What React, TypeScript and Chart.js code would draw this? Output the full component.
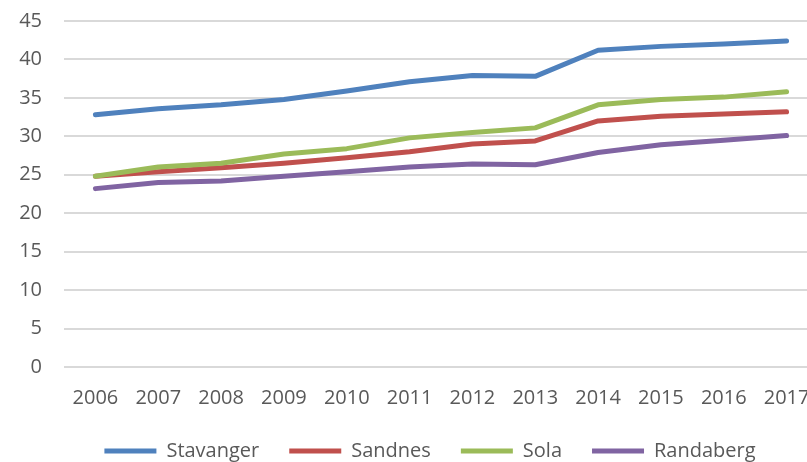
import React, { useEffect, useRef } from "react";
import { Chart, registerables } from "chart.js";

Chart.register(...registerables);

const categories = ["2006", "2007", "2008", "2009", "2010", "2011", "2012", "2013", "2014", "2015", "2016", "2017"];
const stavanger = [32.8, 33.6, 34.1, 34.8, 35.9, 37.1, 37.9, 37.8, 41.2, 41.7, 42.0, 42.4];
const sandnes = [24.8, 25.4, 25.9, 26.5, 27.2, 28.0, 29.0, 29.4, 32.0, 32.6, 32.9, 33.2];
const sola = [24.8, 26.0, 26.5, 27.7, 28.4, 29.8, 30.5, 31.1, 34.1, 34.8, 35.1, 35.8];
const randaberg = [23.2, 24.0, 24.2, 24.8, 25.4, 26.0, 26.4, 26.3, 27.9, 28.9, 29.5, 30.1];
const seriesNames = ["Stavanger", "Sandnes", "Sola", "Randaberg"];
const seriesColors = ["#4F81BD", "#C0504D", "#9BBB59", "#8064A2"];

const W = 855;
const H = 471;

// Shift the legend box so its centre sits where the reference legend is.
const legendShift = {
  id: "legendShift",
  afterLayout(chart: any) {
    if (chart.legend) {
      chart.legend.left = 42;
    }
  },
};

export default function App() {
  const ref = useRef<HTMLCanvasElement | null>(null);

  useEffect(() => {
    if (!ref.current) return;
    const values = [stavanger, sandnes, sola, randaberg];
    const chart = new Chart(ref.current, {
      type: "line",
      data: {
        labels: categories,
        datasets: values.map((v, i) => ({
          label: seriesNames[i],
          data: v,
          borderColor: seriesColors[i],
          backgroundColor: seriesColors[i],
          borderWidth: 5,
          pointRadius: 0,
          pointHoverRadius: 0,
          tension: 0,
          borderCapStyle: "round" as const,
          borderJoinStyle: "round" as const,
          order: 4 - i,
        })),
      },
      plugins: [legendShift],
      options: {
        responsive: false,
        animation: false,
        font: { family: "'Open Sans', sans-serif", size: 20 },
        color: "#595959",
        layout: { padding: { top: 21, right: 37, left: 0, bottom: 0 } },
        scales: {
          x: {
            type: "category",
            offset: true,
            grid: { display: false, drawTicks: false },
            border: { display: false },
            ticks: {
              color: "#595959",
              font: { family: "'Open Sans', sans-serif", size: 20 },
              padding: 19,
              maxRotation: 0,
              autoSkip: false,
            },
            afterFit: (s: any) => {
              s.height = 44;
            },
          },
          y: {
            min: 0,
            max: 45,
            grid: { color: "#D9D9D9", lineWidth: 2, drawTicks: false },
            border: { display: false },
            ticks: {
              stepSize: 5,
              color: "#595959",
              font: { family: "'Open Sans', sans-serif", size: 20 },
              padding: 22,
            },
            afterFit: (s: any) => {
              s.width = 64;
              s.paddingTop = 0;
              s.paddingBottom = 0;
            },
          },
        },
        plugins: {
          tooltip: { enabled: false },
          legend: {
            position: "bottom",
            labels: {
              color: "#595959",
              font: { family: "'Open Sans', sans-serif", size: 20 },
              boxWidth: 52,
              boxHeight: 5,
              padding: 30,
              useBorderRadius: true,
              borderRadius: 2.5,
              generateLabels: (c: any) =>
                c.data.datasets.map((ds: any, i: number) => ({
                  text: ds.label,
                  fillStyle: ds.borderColor,
                  strokeStyle: ds.borderColor,
                  lineWidth: 0,
                  hidden: false,
                  datasetIndex: i,
                  fontColor: "#595959",
                })),
            },
          },
        },
      },
    });
    return () => chart.destroy();
  }, []);

  return (
    <div
      style={{
        position: "fixed",
        left: 0,
        top: 0,
        width: 807,
        height: 462,
        overflow: "hidden",
        background: "#fff",
      }}
    >
      <canvas ref={ref} width={W} height={H} style={{ width: W, height: H, display: "block" }} />
    </div>
  );
}
